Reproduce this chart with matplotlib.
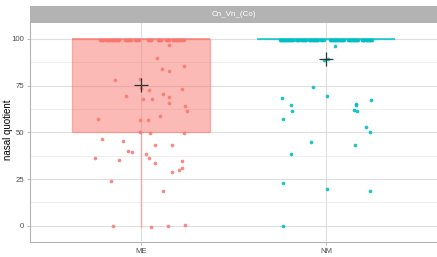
import numpy as np
import matplotlib.pyplot as plt
from matplotlib.ticker import MultipleLocator

plt.rcParams['font.family'] = ['Liberation Sans', 'DejaVu Sans']

# groups and colours
groups = ['ME', 'NM']
colors = ['#F8766D', '#00BFC4']
panel_title = 'Cn_Vn_(Co)'

# ME: values below 100 with their jitter offsets
me_vals = [96.8, 90.0, 84.0, 85.3, 82.6, 78.0, 78.5, 73.7, 72.9, 73.0,
           69.7, 70.7, 68.8, 67.7, 67.6, 65.6, 64.0, 61.3, 57.4, 56.5,
           56.5, 59.0, 50.0, 49.6, 49.6, 46.3, 45.2, 43.3, 43.3, 40.0,
           39.5, 38.4, 36.5, 36.2, 35.4, 34.9, 33.5, 31.1, 29.8, 28.7,
           24.1, 18.4, 0.0, -0.5, 0.0, 0.4]
me_jit = [0.151, 0.084, 0.113, 0.23, 0.151, -0.138, -0.005, 0.002, 0.045, 0.222,
          -0.082, 0.12, 0.152, 0.009, 0.058, 0.151, 0.24, 0.251, -0.23, -0.007,
          0.039, 0.10, -0.005, 0.05, 0.231, -0.213, -0.10, 0.077, 0.165, -0.07,
          -0.047, 0.025, 0.043, -0.249, -0.117, 0.224, 0.077, 0.224, 0.206, 0.168,
          -0.161, 0.12, -0.152, 0.054, 0.144, 0.238]
# ME: jitter offsets of the points sitting at 100 (two rows)
me_jit100_a = [-0.222, -0.208, -0.19, -0.176, -0.161, -0.151, -0.136, -0.122, -0.086, -0.074,
               -0.059, -0.032, -0.015, 0.038, 0.052, 0.091, 0.102, 0.136, 0.145, 0.172,
               0.187, 0.201, 0.217, 0.235]
me_jit100_b = [-0.218, -0.204, -0.186, -0.172, -0.157, -0.147, -0.132, -0.118, -0.082, -0.07,
               -0.055, -0.028, -0.011, 0.042, 0.056, 0.095, 0.106, 0.14, 0.149, 0.176,
               0.191, 0.205, 0.221]

# NM
nm_vals = [96.4, 89.0, 89.4, 74.1, 69.3, 68.2, 67.2, 64.4, 65.4, 64.4,
           61.3, 62.2, 61.3, 57.4, 52.7, 50.3, 44.8, 43.3, 38.4, 22.7,
           19.5, 18.4, 0.0]
nm_jit = [0.047, -0.012, 0.009, -0.068, 0.004, -0.238, 0.244, -0.188, 0.161, 0.16,
          -0.183, 0.154, 0.17, -0.235, 0.217, 0.24, -0.082, 0.156, -0.187, -0.235,
          0.004, 0.237, -0.231]
nm_jit100_a = [-0.247, -0.237, -0.226, -0.215, -0.204, -0.194, -0.183, -0.161, -0.151, -0.134,
               -0.124, -0.113, -0.091, -0.081, -0.07, -0.059, -0.048, -0.027, -0.011, 0.022,
               0.032, 0.043, 0.054, 0.065, 0.075, 0.086, 0.097, 0.118, 0.129, 0.14,
               0.151, 0.161, 0.172, 0.194, 0.204, 0.215, 0.226, 0.237, 0.247]
nm_jit100_b = [-0.244, -0.233, -0.222, -0.211, -0.2, -0.19, -0.179, -0.157, -0.147, -0.13,
               -0.12, -0.109, -0.087, -0.077, -0.066, -0.055, -0.044, -0.023, 0.026, 0.036,
               0.047, 0.058, 0.069, 0.079, 0.09, 0.122, 0.133, 0.144, 0.155, 0.165,
               0.198, 0.208, 0.219, 0.23, 0.241]
top_a, top_b = 99.7, 99.3

me_all = np.array(me_vals + [top_a] * len(me_jit100_a) + [top_b] * len(me_jit100_b))
nm_all = np.array(nm_vals + [top_a] * len(nm_jit100_a) + [top_b] * len(nm_jit100_b))
me_x = np.array(me_jit + me_jit100_a + me_jit100_b) + 1
nm_x = np.array(nm_jit + nm_jit100_a + nm_jit100_b) + 2
# the box statistics use the recorded values (the top row is exactly 100)
me_stat = np.where(me_all > 99, 100.0, me_all)
nm_stat = np.where(nm_all > 99, 100.0, nm_all)

fig = plt.figure(figsize=(4.37, 2.57), dpi=100)
ax = fig.add_axes([30 / 437, 1 - 241.7 / 257, 1 - 30 / 437, (241.7 - 22.7) / 257])

# grid
ax.yaxis.set_major_locator(MultipleLocator(25))
ax.yaxis.set_minor_locator(MultipleLocator(12.5))
ax.grid(which='major', color='#DEDEDE', lw=0.8)
ax.grid(which='minor', axis='y', color='#E8E8E8', lw=0.5)
ax.set_axisbelow(True)

bp = ax.boxplot([me_stat, nm_stat], positions=[1, 2], widths=0.75, whis=1.5,
                showfliers=False, showcaps=False, patch_artist=True)
for i, c in enumerate(colors):
    bp['boxes'][i].set(facecolor=c, alpha=0.5, edgecolor=c, lw=1)
    bp['medians'][i].set(color=c, lw=1.2, alpha=0.8)
    for w in bp['whiskers'][2 * i:2 * i + 2]:
        w.set(color=c, alpha=0.5, lw=1)

ax.scatter(me_x, me_all, s=7, color=colors[0], alpha=0.85, lw=0, zorder=3)
ax.scatter(nm_x, nm_all, s=7, color=colors[1], alpha=0.9, lw=0, zorder=3)

# means
ax.plot([1, 2], [me_stat.mean(), nm_stat.mean()], ls='none', marker='+',
        ms=10, mew=0.9, color='#333333', zorder=4)

ax.set_xlim(0.4, 2.6)
ax.set_ylim(-8.5, 108.7)
ax.set_xticks([1, 2])
ax.set_xticklabels(groups)
ax.tick_params(axis='both', which='major', labelsize=5.6, labelcolor='#4D4D4D',
               color='#B3B3B3', length=2.5, width=0.6, pad=2)
ax.tick_params(axis='y', which='minor', length=0)
for s in ['top', 'right']:
    ax.spines[s].set_visible(False)
for s in ['left', 'bottom']:
    ax.spines[s].set_color('#B3B3B3')
    ax.spines[s].set_linewidth(0.8)

fig.text(8.5 / 437, 1 - 130 / 257, 'nasal quotient', rotation=90, ha='center',
         va='center', fontsize=7, color='black')

# facet strip
sax = fig.add_axes([30 / 437, 1 - 22.7 / 257, 1 - 30 / 437, 16.7 / 257])
sax.set_facecolor('#B3B3B3')
sax.set_xticks([])
sax.set_yticks([])
for s in sax.spines.values():
    s.set_visible(False)
sax.text(0.5, 0.5, panel_title, ha='center', va='center', color='white',
         fontsize=5.8, transform=sax.transAxes)

fig.savefig('out.png', dpi=100)
